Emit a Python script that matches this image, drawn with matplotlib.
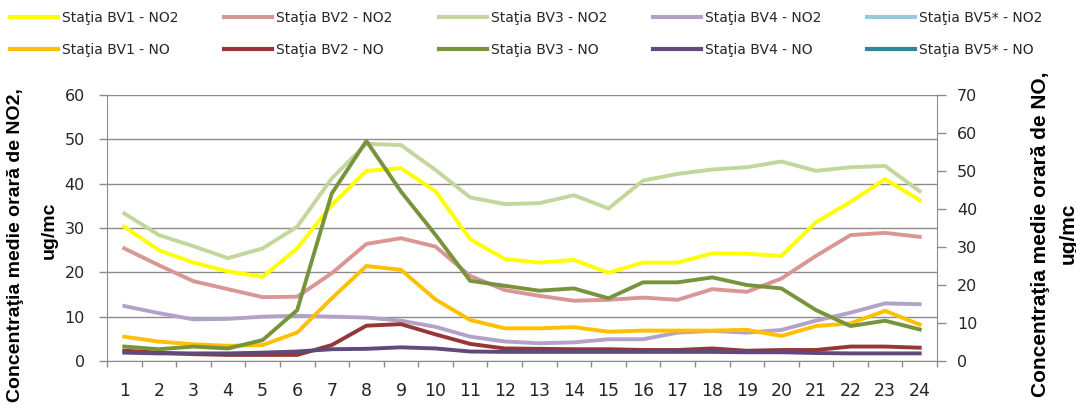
import numpy as np
import matplotlib
matplotlib.use("Agg")
import matplotlib.pyplot as plt

hours = list(range(1, 25))
hour_labels = [str(h) for h in hours]

# NO2 (left axis, ug/mc)
bv1_no2 = [30.3, 25.0, 22.2, 20.2, 19.0, 25.4, 35.2, 42.9, 43.5, 38.3, 27.5, 23.0,
           22.2, 22.8, 19.9, 22.2, 22.2, 24.3, 24.2, 23.7, 31.3, 35.9, 41.0, 36.3]
bv2_no2 = [25.4, 21.6, 18.0, 16.2, 14.4, 14.5, 19.8, 26.4, 27.7, 25.8, 19.2, 16.0,
           14.7, 13.6, 13.8, 14.3, 13.8, 16.2, 15.6, 18.6, 23.7, 28.4, 28.9, 28.0]
bv3_no2 = [33.3, 28.4, 25.9, 23.2, 25.4, 30.3, 41.2, 49.0, 48.7, 43.1, 36.9, 35.4,
           35.6, 37.4, 34.4, 40.7, 42.2, 43.2, 43.7, 45.0, 42.9, 43.7, 44.0, 38.3]
bv4_no2 = [12.4, 10.8, 9.4, 9.5, 10.0, 10.2, 10.0, 9.8, 9.1, 7.7, 5.5, 4.4,
           4.0, 4.2, 4.9, 4.9, 6.4, 6.8, 6.4, 7.0, 9.1, 10.9, 13.0, 12.8]
bv5_no2 = []  # no data

# NO (right axis, ug/mc)
bv1_no = [6.4, 5.1, 4.4, 4.0, 4.2, 7.5, 16.5, 25.0, 24.0, 16.2, 10.8, 8.6,
          8.6, 8.9, 7.7, 8.0, 8.0, 8.0, 8.2, 6.6, 9.2, 9.9, 13.2, 9.6]
bv2_no = [2.7, 2.2, 1.8, 1.6, 1.6, 1.6, 4.2, 9.3, 9.7, 7.0, 4.5, 3.3,
          3.2, 3.1, 3.1, 2.9, 2.9, 3.3, 2.7, 2.9, 2.9, 3.8, 3.8, 3.5]
bv3_no = [3.8, 3.1, 3.8, 3.3, 5.5, 13.4, 44.1, 57.9, 44.6, 33.2, 21.1, 19.8,
          18.5, 19.1, 16.5, 20.7, 20.7, 22.0, 20.0, 19.1, 13.4, 9.2, 10.6, 8.3]
bv4_no = [2.2, 2.0, 2.0, 2.0, 2.2, 2.5, 3.1, 3.2, 3.6, 3.3, 2.5, 2.4,
          2.4, 2.4, 2.4, 2.4, 2.4, 2.4, 2.3, 2.3, 2.1, 2.0, 2.0, 2.0]
bv5_no = []  # no data

no2_series = [("Staţia BV1 - NO2", bv1_no2, "#FFFF00"),
              ("Staţia BV2 - NO2", bv2_no2, "#D99694"),
              ("Staţia BV3 - NO2", bv3_no2, "#C3D69B"),
              ("Staţia BV4 - NO2", bv4_no2, "#B3A2C7"),
              ("Staţia BV5* - NO2", bv5_no2, "#93CDDD")]
no_series = [("Staţia BV1 - NO", bv1_no, "#FFC000"),
             ("Staţia BV2 - NO", bv2_no, "#953735"),
             ("Staţia BV3 - NO", bv3_no, "#77933C"),
             ("Staţia BV4 - NO", bv4_no, "#604A7B"),
             ("Staţia BV5* - NO", bv5_no, "#31859C")]

plt.rcParams['font.family'] = ['DejaVu Sans']
W, H = 1076, 405
fig = plt.figure(figsize=(W / 100, H / 100), dpi=100)
ax = fig.add_axes([107 / W, 1 - 361 / H, 830 / W, 266 / H])
ax2 = ax.twinx()

LW = 2.8
grid_c = "#8C8C8C"
text_c = "#262626"

h_no2, h_no = [], []
for lab, vals, col in no2_series:
    xs = hours[:len(vals)]
    ln, = ax.plot(xs, vals, color=col, lw=LW, label=lab, solid_joinstyle='round')
    h_no2.append(ln)
for lab, vals, col in no_series:
    xs = hours[:len(vals)]
    ln, = ax2.plot(xs, vals, color=col, lw=LW, label=lab, solid_joinstyle='round')
    h_no.append(ln)

ax.set_xlim(0.5, 24.5)
ax.set_ylim(0, 60)
ax2.set_ylim(0, 70)
ax.set_yticks(np.arange(0, 61, 10))
ax2.set_yticks(np.arange(0, 71, 10))
ax.yaxis.grid(True, color=grid_c, lw=1.0)
ax.set_axisbelow(True)

ax.set_xticks(np.arange(0.5, 25, 1))
ax.set_xticklabels([])
ax.set_xticks(hours, minor=True)
ax.set_xticklabels(hour_labels, minor=True)
ax.tick_params(axis='x', which='major', direction='out', length=4.5, color=grid_c, width=1)
ax.tick_params(axis='x', which='minor', length=0, pad=15, labelsize=12.5, labelcolor=text_c)
ax.tick_params(axis='y', direction='out', length=6, color=grid_c, width=1, pad=10,
               labelsize=11.5, labelcolor=text_c)
ax2.tick_params(axis='y', direction='out', length=6.5, color=grid_c, width=1, pad=8,
                labelsize=11.5, labelcolor=text_c)

for s in ['top', 'right']:
    ax.spines[s].set_visible(False)
for s in ['left', 'bottom']:
    ax.spines[s].set_color(grid_c)
for s in ['top', 'left', 'bottom']:
    ax2.spines[s].set_visible(False)
ax2.spines['right'].set_color(grid_c)

lab_font = dict(family='Liberation Sans', weight='bold', color='black',
                rotation=90, ha='center', va='center')
fig.text(16 / W, 1 - 245 / H, "Concentraţia medie orară de NO2,", size=14, **lab_font)
fig.text(49 / W, 1 - 230 / H, "ug/mc", size=14, **lab_font)
fig.text(1040 / W, 1 - 234 / H, "Concentraţia medie orară de NO,", size=15, **lab_font)
fig.text(1068 / W, 1 - 233 / H, "ug/mc", size=15, **lab_font)

handles = []
for a, b in zip(h_no2, h_no):
    handles += [a, b]
leg = fig.legend(handles=handles, labels=[h.get_label() for h in handles],
                 ncol=5, loc='upper left', bbox_to_anchor=(10 / W, 1 - 11 / H),
                 frameon=False, fontsize=10, handlelength=3.45, handletextpad=0.3,
                 columnspacing=3.3, labelspacing=1.3, borderpad=0, borderaxespad=0)
for t in leg.get_texts():
    t.set_color(text_c)
for l in leg.get_lines():
    l.set_linewidth(3)

fig.savefig("out.png", dpi=100)
